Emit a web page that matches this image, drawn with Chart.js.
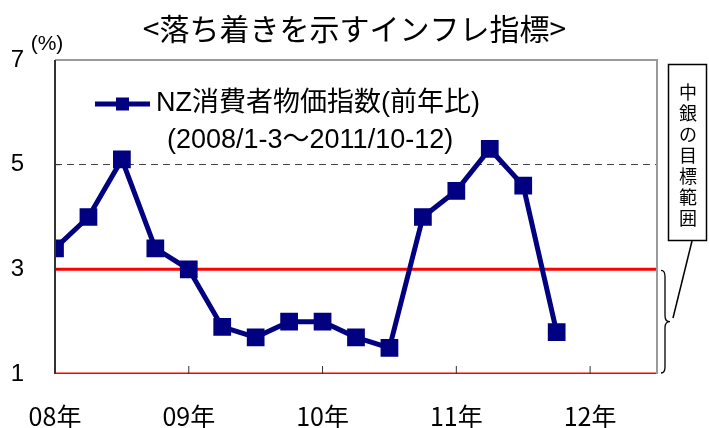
<!DOCTYPE html>
<html>
<head>
<meta charset="utf-8">
<script src="https://cdn.jsdelivr.net/npm/chart.js@4.4.1/dist/chart.umd.min.js"></script>
<style>
  html, body { margin: 0; padding: 0; background: #fff; }
  #wrap { width: 709px; height: 428px; }
</style>
</head>
<body>
<div id="wrap"><canvas id="chart"></canvas></div>
<script>
// NZ CPI, year-on-year %, quarterly 2008 Q1 .. 2011 Q4
const cpiValues = [3.4, 4.0, 5.1, 3.4, 3.0, 1.9, 1.7, 2.0, 2.0, 1.7, 1.5, 4.0, 4.5, 5.3, 4.6, 1.8];
const yearLabels = ['08年', '09年', '10年', '11年', '12年'];
const targetRange = [1, 3];
const seriesLabel = 'NZ消費者物価指数(前年比)';
const seriesNote = '(2008/1-3～2011/10-12)';
const titleText = '<落ち着きを示すインフレ指標>';
const calloutText = ['中', '銀', 'の', '目', '標', '範', '囲'];

const NAVY = '#000080';
const FONT = '"Liberation Sans", "Noto Sans CJK JP", sans-serif';

const cpiPoints = cpiValues.map((v, i) => ({ x: i, y: v }));
const lineAt = (v) => [{ x: 0, y: v }, { x: 18, y: v }];

const decorations = {
    id: 'decorations',
    afterDraw(chart) {
        const { ctx, chartArea: a, scales } = chart;
        ctx.save();

        // title, centred on the whole canvas
        ctx.fillStyle = '#000';
        ctx.font = '30px "Noto Sans CJK JP", sans-serif';
        ctx.textAlign = 'center';
        ctx.textBaseline = 'middle';
        ctx.fillText(titleText, chart.width / 2, 29);

        // plot frame
        ctx.strokeStyle = '#9a9a9a';
        ctx.lineWidth = 2;
        ctx.beginPath();
        ctx.moveTo(a.left, a.top);
        ctx.lineTo(a.right, a.top);
        ctx.lineTo(a.right, a.bottom);
        ctx.stroke();
        ctx.strokeStyle = '#333';
        ctx.beginPath();
        ctx.moveTo(a.left, a.top);
        ctx.lineTo(a.left, a.bottom);
        ctx.stroke();

        // inner tick marks
        ctx.lineWidth = 1;
        [4, 8, 12, 16].forEach((v) => {
            const x = scales.x.getPixelForValue(v);
            ctx.beginPath();
            ctx.moveTo(x, a.bottom);
            ctx.lineTo(x, a.bottom - 8);
            ctx.stroke();
        });
        [3, 5].forEach((v) => {
            const y = scales.y.getPixelForValue(v);
            ctx.beginPath();
            ctx.moveTo(a.left, y);
            ctx.lineTo(a.left + 5, y);
            ctx.stroke();
        });

        // unit
        ctx.font = '21px ' + FONT;
        ctx.fillText('(%)', 47, 44);

        // legend
        const ly = 104;
        ctx.strokeStyle = NAVY;
        ctx.lineWidth = 5;
        ctx.beginPath();
        ctx.moveTo(95, ly);
        ctx.lineTo(150, ly);
        ctx.stroke();
        ctx.fillStyle = NAVY;
        ctx.fillRect(116, ly - 6.5, 13, 13);
        ctx.fillStyle = '#000';
        ctx.font = '27px ' + FONT;
        ctx.textAlign = 'left';
        ctx.fillText(seriesLabel, 156, ly);
        ctx.fillText(seriesNote, 167, 141);

        // callout box
        ctx.strokeStyle = '#000';
        ctx.lineWidth = 1.5;
        ctx.strokeRect(668.5, 64.5, 38, 176);
        ctx.font = '18px "Noto Sans CJK JP", sans-serif';
        ctx.textAlign = 'center';
        calloutText.forEach((c, i) => ctx.fillText(c, 688, 92 + i * 21));

        // pointer
        ctx.beginPath();
        ctx.moveTo(692, 241);
        ctx.lineTo(673, 318);
        ctx.stroke();

        // brace for target range
        const yt = scales.y.getPixelForValue(targetRange[1]) + 1;
        const yb = scales.y.getPixelForValue(targetRange[0]) - 1;
        const ym = (yt + yb) / 2;
        const bx = 664;
        ctx.lineWidth = 1.3;
        ctx.beginPath();
        ctx.moveTo(bx - 3, yt);
        ctx.quadraticCurveTo(bx + 1, yt, bx + 1, yt + 6);
        ctx.lineTo(bx + 1, ym - 6);
        ctx.quadraticCurveTo(bx + 1, ym, bx + 6, ym);
        ctx.quadraticCurveTo(bx + 1, ym, bx + 1, ym + 6);
        ctx.lineTo(bx + 1, yb - 6);
        ctx.quadraticCurveTo(bx + 1, yb, bx - 3, yb);
        ctx.stroke();

        ctx.restore();
    }
};

new Chart(document.getElementById('chart'), {
    type: 'line',
    data: {
        datasets: [
            {
                label: seriesLabel,
                data: cpiPoints,
                borderColor: NAVY,
                backgroundColor: NAVY,
                borderWidth: 5,
                pointStyle: 'rect',
                pointRadius: 9,
                pointHoverRadius: 9,
                tension: 0,
            },
            {
                label: 'upper',
                data: lineAt(targetRange[1]),
                borderColor: '#ff0000',
                borderWidth: 3,
                pointRadius: 0,
            },
            {
                label: 'lower',
                data: lineAt(targetRange[0]),
                borderColor: '#ff0000',
                borderWidth: 3,
                pointRadius: 0,
            },
        ],
    },
    options: {
        responsive: true,
        maintainAspectRatio: false,
        animation: false,
        layout: { padding: { left: 0, right: 52, top: 60, bottom: 0 } },
        plugins: {
            legend: { display: false },
            tooltip: { enabled: false },
            title: { display: false },
        },
        scales: {
            x: {
                type: 'linear',
                min: 0,
                max: 18,
                afterFit: (s) => { s.height = 54; },
                grid: { display: false },
                border: { display: false },
                ticks: {
                    stepSize: 4,
                    autoSkip: false,
                    maxRotation: 0,
                    padding: 19,
                    color: '#000',
                    font: { family: '"Noto Sans CJK JP", sans-serif', size: 25 },
                    callback: (v) => yearLabels[v / 4] ?? '',
                },
            },
            y: {
                min: 1,
                max: 7,
                afterFit: (s) => { s.width = 55; },
                border: { display: false, dash: [7, 5] },
                grid: {
                    drawTicks: false,
                    color: (c) => (c.tick.value === 3 || c.tick.value === 5 ? '#444' : 'transparent'),
                    lineWidth: 1,
                },
                ticks: {
                    stepSize: 2,
                    padding: 31,
                    color: '#000',
                    font: { family: FONT, size: 24 },
                },
            },
        },
    },
    plugins: [decorations],
});
</script>
</body>
</html>
